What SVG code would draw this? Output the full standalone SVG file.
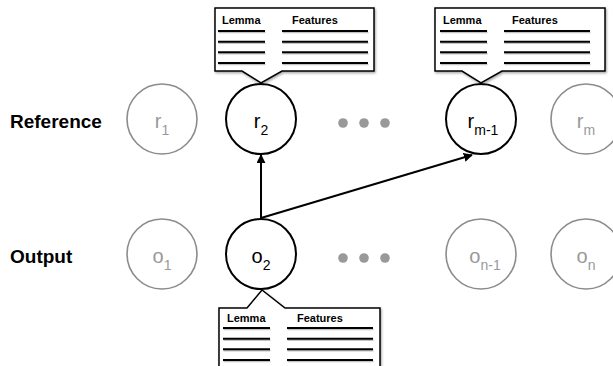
<svg xmlns="http://www.w3.org/2000/svg" width="613" height="366" viewBox="0 0 613 366">
  <style>
    .row-label { font-family: "Liberation Sans", Arial, sans-serif; font-weight: bold; font-size: 19px; fill: #000; }
    .node-main circle { fill: #fff; stroke: #000; stroke-width: 2; }
    .node-dim circle { fill: #fff; stroke: #8c8c8c; stroke-width: 1.6; }
    .sym { font-family: "Liberation Sans", Arial, sans-serif; font-size: 20px; text-anchor: middle; }
    .node-main .sym { fill: #000; }
    .node-dim .sym { fill: #999; }
    .sub { font-size: 14px; }
    .dot { fill: #999; }
    .callout { fill: #fff; stroke: #000; stroke-width: 1.5; stroke-linejoin: miter; }
    .head { font-family: "Liberation Sans", Arial, sans-serif; font-weight: bold; font-size: 11px; fill: #000; }
    .rule { stroke: #000; stroke-width: 2; }
    .rule-shadow { stroke: #aaa; stroke-width: 1.5; opacity: 0.7; }
    .edge { stroke: #000; stroke-width: 2; fill: none; marker-end: url(#arrow); }
  </style>
  <defs>
    <marker id="arrow" viewBox="0 0 10 10" refX="9" refY="5" markerWidth="4.5" markerHeight="4.5" orient="auto" markerUnits="strokeWidth">
      <path d="M0,0 L10,5 L0,10 Z" fill="#000"/>
    </marker>
    <filter id="shade" x="-10%" y="-10%" width="130%" height="140%">
      <feDropShadow dx="1" dy="1.5" stdDeviation="1" flood-color="#000" flood-opacity="0.35"/>
    </filter>
    <!-- one table of rules: lemma column and features column -->
    <g id="rules">
      <g class="rule-shadow" transform="translate(0.5,1.5)">
        <line x1="0" y1="0" x2="47" y2="0"/><line x1="64" y1="0" x2="150" y2="0"/>
        <line x1="0" y1="10.7" x2="47" y2="10.7"/><line x1="64" y1="10.7" x2="150" y2="10.7"/>
        <line x1="0" y1="21.3" x2="47" y2="21.3"/><line x1="64" y1="21.3" x2="150" y2="21.3"/>
        <line x1="0" y1="32" x2="47" y2="32"/><line x1="64" y1="32" x2="150" y2="32"/>
      </g>
      <g class="rule">
        <line x1="0" y1="0" x2="47" y2="0"/><line x1="64" y1="0" x2="150" y2="0"/>
        <line x1="0" y1="10.7" x2="47" y2="10.7"/><line x1="64" y1="10.7" x2="150" y2="10.7"/>
        <line x1="0" y1="21.3" x2="47" y2="21.3"/><line x1="64" y1="21.3" x2="150" y2="21.3"/>
        <line x1="0" y1="32" x2="47" y2="32"/><line x1="64" y1="32" x2="150" y2="32"/>
      </g>
    </g>
  </defs>

  <rect width="613" height="366" fill="#fff"/>

  <!-- row labels -->
  <text class="row-label" x="10" y="128">Reference</text>
  <text class="row-label" x="10" y="263">Output</text>

  <!-- connectors -->
  <g id="connectors">
    <line class="edge" x1="261" y1="218" x2="261" y2="155"/>
    <line class="edge" x1="261" y1="218" x2="472" y2="155"/>
  </g>

  <!-- reference row -->
  <g id="r1" class="node-dim">
    <circle cx="162" cy="119" r="35"/>
    <text class="sym" x="162" y="128">r<tspan class="sub" dy="7">1</tspan></text>
  </g>
  <g id="r2" class="node-main">
    <circle cx="261" cy="119" r="35"/>
    <text class="sym" x="261" y="128">r<tspan class="sub" dy="7">2</tspan></text>
  </g>
  <g id="r-dots">
    <circle class="dot" cx="343" cy="123" r="4.8"/>
    <circle class="dot" cx="364" cy="123" r="4.8"/>
    <circle class="dot" cx="385" cy="123" r="4.8"/>
  </g>
  <g id="rm1" class="node-main">
    <circle cx="481" cy="119" r="35"/>
    <text class="sym" x="483" y="128">r<tspan class="sub" dy="7">m-1</tspan></text>
  </g>
  <g id="rm" class="node-dim">
    <circle cx="586" cy="119" r="35"/>
    <text class="sym" x="586" y="128">r<tspan class="sub" dy="7">m</tspan></text>
  </g>

  <!-- output row -->
  <g id="o1" class="node-dim">
    <circle cx="162" cy="254" r="35"/>
    <text class="sym" x="162" y="263">o<tspan class="sub" dy="7">1</tspan></text>
  </g>
  <g id="o2" class="node-main">
    <circle cx="261" cy="254" r="35"/>
    <text class="sym" x="261" y="263">o<tspan class="sub" dy="7">2</tspan></text>
  </g>
  <g id="o-dots">
    <circle class="dot" cx="343" cy="258" r="4.8"/>
    <circle class="dot" cx="364" cy="258" r="4.8"/>
    <circle class="dot" cx="385" cy="258" r="4.8"/>
  </g>
  <g id="on1" class="node-dim">
    <circle cx="481" cy="254" r="35"/>
    <text class="sym" x="485" y="263">o<tspan class="sub" dy="7">n-1</tspan></text>
  </g>
  <g id="on" class="node-dim">
    <circle cx="586" cy="254" r="35"/>
    <text class="sym" x="586" y="263">o<tspan class="sub" dy="7">n</tspan></text>
  </g>

  <!-- feature table attached to r2 -->
  <g id="table-r2">
    <path class="callout" filter="url(#shade)" d="M215,8 H374 V71 H282 L261,83 L242,71 H215 Z"/>
    <text class="head" x="222" y="24">Lemma</text>
    <text class="head" x="292" y="24">Features</text>
    <use href="#rules" transform="translate(218,31) scale(1,1)"/>
  </g>

  <!-- feature table attached to r(m-1) -->
  <g id="table-rm1">
    <path class="callout" filter="url(#shade)" d="M435,8 H605 V71 H502 L481,83 L462,71 H435 Z"/>
    <text class="head" x="443" y="24">Lemma</text>
    <text class="head" x="512" y="24">Features</text>
    <use href="#rules" transform="translate(440,31)"/>
  </g>

  <!-- feature table attached to o2 -->
  <g id="table-o2">
    <path class="callout" filter="url(#shade)" d="M219,380 V308 H247 L262,290 L285,308 H380 V380"/>
    <text class="head" x="227" y="322">Lemma</text>
    <text class="head" x="297" y="322">Features</text>
    <use href="#rules" transform="translate(223,328)"/>
  </g>
</svg>
